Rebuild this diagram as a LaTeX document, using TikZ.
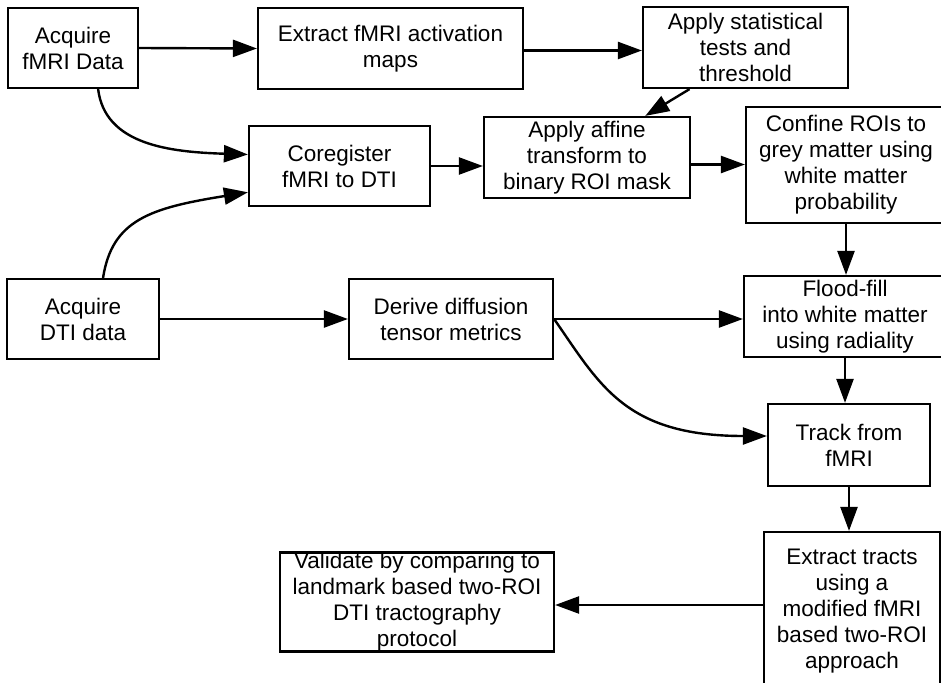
\documentclass[tikz,border=0pt]{standalone}
\usepackage{fontspec}
\setmainfont{Liberation Sans}
\usetikzlibrary{arrows.meta,calc}
\begin{document}
\begin{tikzpicture}[x=1pt,y=-1pt,
  box/.style={draw, line width=2.2pt, inner sep=0pt, align=center,
    font=\fontsize{22.5}{26}\selectfont},
  arr/.style={line width=2.4pt, -{Triangle[length=24pt,width=17pt]}}]
\useasboundingbox (0,0) rectangle (941,682);
\clip (0,0) rectangle (941,682);
\fill[white] (0,0) rectangle (941,682);
% nodes
\node[box, minimum width=130pt, minimum height=80pt] (fmri) at (73,48) {Acquire\\fMRI Data};
\node[box, minimum width=265pt, minimum height=81pt] (extract) at (390.5,48.5) {Extract fMRI activation\\maps};
\node[box, minimum width=205pt, minimum height=81pt] (stat) at (745.5,47.5) {Apply statistical\\tests and\\threshold};
\node[box, minimum width=181pt, minimum height=80pt] (coreg) at (339.5,166) {Coregister\\fMRI to DTI};
\node[box, minimum width=206pt, minimum height=81pt] (affine) at (587,157.5) {Apply affine\\transform to\\binary ROI mask};
\node[box, minimum width=200pt, minimum height=116pt] (confine) at (846,165) {Confine ROIs to\\grey matter using\\white matter\\probability};
\node[box, minimum width=152pt, minimum height=80pt] (dti) at (83,319) {Acquire\\DTI data};
\node[box, minimum width=204pt, minimum height=80pt] (derive) at (451,319) {Derive diffusion\\tensor metrics};
\node[box, minimum width=202pt, minimum height=81pt] (flood) at (845,316.5) {Flood-fill\\into white matter\\using radiality};
\node[box, minimum width=162pt, minimum height=82pt] (track) at (849,445) {Track from\\fMRI};
\node[box, minimum width=176pt, minimum height=158pt] (tracts) at (852,611) {Extract tracts\\using a\\modified fMRI\\based two-ROI\\approach};
\node[box, minimum width=274pt, minimum height=98pt] (validate) at (417,602) {Validate by comparing to\\landmark based two-ROI\\DTI tractography\\protocol};
% connectors
\draw[arr] (fmri.east) -- (extract.west);
\draw[arr] ([yshift=-2pt]extract.east) -- ([yshift=-2pt]extract.east -| stat.west);
\draw[arr] ($(stat.south west)!0.23!(stat.south east)$) -- ($(affine.north west)!0.78!(affine.north east)$);
\draw[arr] ($(fmri.south west)!0.69!(fmri.south east)$) .. controls (105,145) and (170,152) .. ($(coreg.north west)!0.36!(coreg.south west)$);
\draw[arr] ($(dti.north west)!0.63!(dti.north east)$) .. controls (112,220) and (150,208) .. ($(coreg.north west)!0.82!(coreg.south west)$);
\draw[arr] (coreg.east) -- (coreg.east -| affine.west);
\draw[arr] ([yshift=-7pt]affine.east) -- ([yshift=-7pt]affine.east -| confine.west);
\draw[arr] (confine.south) -- (confine.south |- flood.north);
\draw[arr] (dti.east) -- (derive.west);
\draw[arr] (derive.east) -- (derive.east -| flood.west);
\draw[arr] (derive.east) .. controls (600,385) and (625,436) .. (track.west |- 0,436);
\draw[arr] (flood.south) -- (flood.south |- track.north);
\draw[arr] (track.south) -- (track.south |- tracts.north);
\draw[arr] ([yshift=6pt]tracts.west) -- ([yshift=6pt]tracts.west -| validate.east);
\end{tikzpicture}
\end{document}
